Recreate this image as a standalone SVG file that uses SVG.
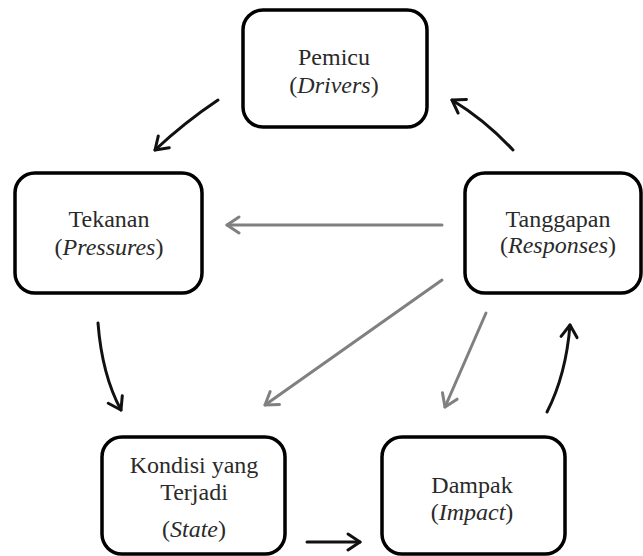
<svg xmlns="http://www.w3.org/2000/svg" width="643" height="556" viewBox="0 0 643 556">
<defs>
<marker id="ab" markerUnits="userSpaceOnUse" markerWidth="24" markerHeight="24" viewBox="-14 -12 24 24" refX="0" refY="0" orient="auto">
<path d="M-12,-8 L0,0 L-12,8" fill="none" stroke="#111" stroke-width="3" stroke-linecap="round" stroke-linejoin="round"/>
</marker>
<marker id="ag" markerUnits="userSpaceOnUse" markerWidth="24" markerHeight="24" viewBox="-14 -12 24 24" refX="0" refY="0" orient="auto">
<path d="M-12,-8 L0,0 L-12,8" fill="none" stroke="#808080" stroke-width="3" stroke-linecap="round" stroke-linejoin="round"/>
</marker>
</defs>
<style>
.box{fill:#fff;stroke:#000;stroke-width:3.5}
.i{font-style:italic}
.cb{fill:none;stroke:#111;stroke-width:3;stroke-linecap:round}
.cg{fill:none;stroke:#808080;stroke-width:3;stroke-linecap:round}
</style>
<rect width="643" height="556" fill="#fff"/>
<g id="connectors">
<path class="cb" d="M218,100 Q185,122 155,150" marker-end="url(#ab)"/>
<path class="cb" d="M513,150 Q485,120 452,100" marker-end="url(#ab)"/>
<path class="cg" d="M442,225 L227,225" marker-end="url(#ag)"/>
<path class="cg" d="M442,280 L265,405" marker-end="url(#ag)"/>
<path class="cg" d="M486,313 L445,407" marker-end="url(#ag)"/>
<path class="cb" d="M98,323 Q102,375 121,410" marker-end="url(#ab)"/>
<path class="cb" d="M547,412 Q566,375 570,325" marker-end="url(#ab)"/>
<path class="cb" d="M307,542 L360,542" marker-end="url(#ab)"/>
</g>
<g font-family="Liberation Serif, Times New Roman, serif" font-size="24" fill="#2a2a2a" text-anchor="middle">
<g id="pemicu">
<rect class="box" x="243" y="10" width="184" height="117" rx="20"/>
<text x="334" y="65">Pemicu</text>
<text x="334" y="93">(<tspan class="i">Drivers</tspan>)</text>
</g>
<g id="tekanan">
<rect class="box" x="15" y="173" width="187" height="120" rx="20"/>
<text x="109" y="227">Tekanan</text>
<text x="109" y="255">(<tspan class="i">Pressures</tspan>)</text>
</g>
<g id="tanggapan">
<rect class="box" x="465" y="173" width="176" height="120" rx="20"/>
<text x="558" y="227">Tanggapan</text>
<text x="558" y="253">(<tspan class="i">Responses</tspan>)</text>
</g>
<g id="kondisi">
<rect class="box" x="102" y="437" width="183" height="117" rx="20"/>
<text x="194" y="473">Kondisi yang</text>
<text x="194" y="500">Terjadi</text>
<text x="194" y="537">(<tspan class="i">State</tspan>)</text>
</g>
<g id="dampak">
<rect class="box" x="382" y="437" width="183" height="117" rx="20"/>
<text x="472" y="493">Dampak</text>
<text x="472" y="520">(<tspan class="i">Impact</tspan>)</text>
</g>
</g>
</svg>
